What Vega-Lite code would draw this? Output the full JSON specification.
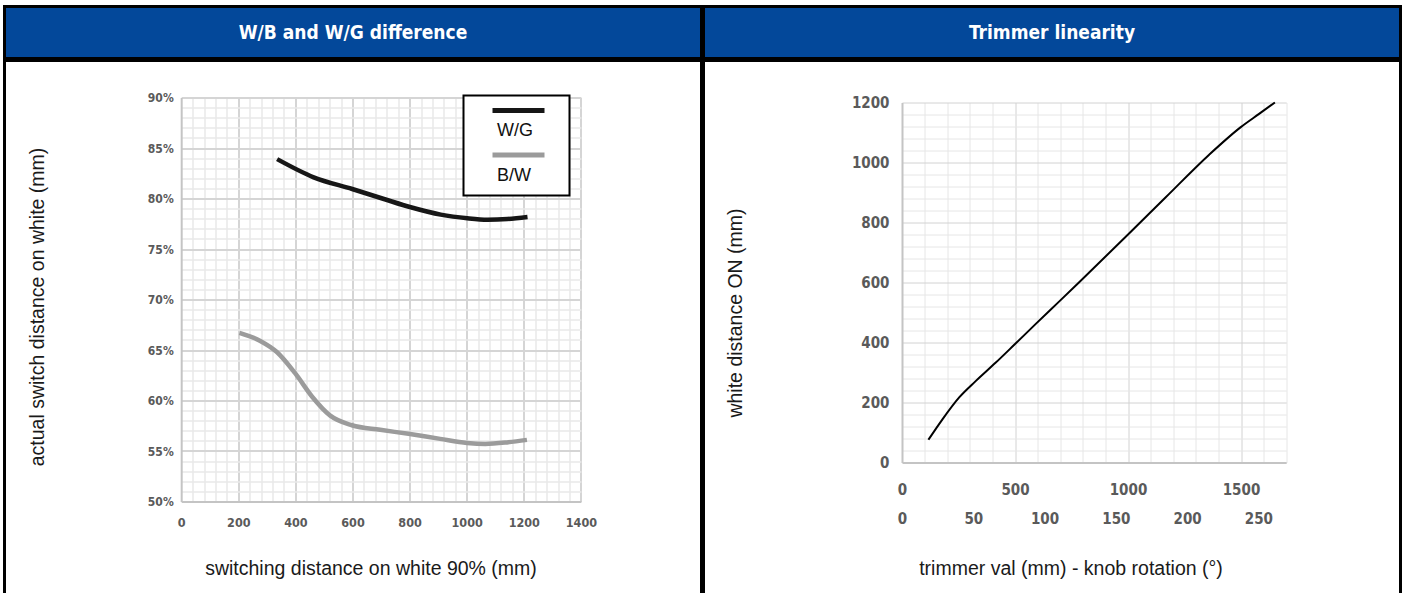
{
  "$schema": "https://vega.github.io/schema/vega-lite/v6.json",
  "padding": {"left": 2.5, "top": 4.5, "right": 0, "bottom": -5},
  "background": "white",
  "spacing": -3,
  "config": {
    "axis": {
      "labelOverlap": false, "labelFlush": false, "ticks": false, "tickSize": 0,
      "labelFont": "DejaVu Sans Condensed",
      "labelFontWeight": "bold", "labelColor": "#5a5a5a",
      "titleFont": "Liberation Sans", "titleFontWeight": "normal", "titleFontSize": 19.5, "titleColor": "#1a1a1a"
    },
    "legend": {"strokeWidth": 2}
  },
  "datasets": {
    "ratio": [
      {"series": "W/G", "dist": 336, "actual": 0.839},
      {"series": "W/G", "dist": 464, "actual": 0.821},
      {"series": "W/G", "dist": 599, "actual": 0.8094},
      {"series": "W/G", "dist": 710, "actual": 0.7995},
      {"series": "W/G", "dist": 804, "actual": 0.7913},
      {"series": "W/G", "dist": 909, "actual": 0.784},
      {"series": "W/G", "dist": 1002, "actual": 0.7804},
      {"series": "W/G", "dist": 1073, "actual": 0.779},
      {"series": "W/G", "dist": 1143, "actual": 0.7797},
      {"series": "W/G", "dist": 1213, "actual": 0.7817},
      {"series": "B/W", "dist": 204, "actual": 0.667},
      {"series": "B/W", "dist": 277, "actual": 0.659},
      {"series": "B/W", "dist": 335, "actual": 0.648},
      {"series": "B/W", "dist": 399, "actual": 0.627},
      {"series": "B/W", "dist": 458, "actual": 0.604},
      {"series": "B/W", "dist": 522, "actual": 0.585},
      {"series": "B/W", "dist": 598, "actual": 0.5755},
      {"series": "B/W", "dist": 697, "actual": 0.571},
      {"series": "B/W", "dist": 796, "actual": 0.567},
      {"series": "B/W", "dist": 907, "actual": 0.562},
      {"series": "B/W", "dist": 1001, "actual": 0.558},
      {"series": "B/W", "dist": 1065, "actual": 0.557},
      {"series": "B/W", "dist": 1141, "actual": 0.5585},
      {"series": "B/W", "dist": 1211, "actual": 0.561}
    ],
    "trimmer": [
      {"trimmer_mm": 117, "white_on": 76},
      {"trimmer_mm": 179, "white_on": 144},
      {"trimmer_mm": 253, "white_on": 217},
      {"trimmer_mm": 327, "white_on": 272},
      {"trimmer_mm": 415, "white_on": 333},
      {"trimmer_mm": 499, "white_on": 394},
      {"trimmer_mm": 592, "white_on": 462},
      {"trimmer_mm": 696, "white_on": 537},
      {"trimmer_mm": 784, "white_on": 601},
      {"trimmer_mm": 999, "white_on": 759},
      {"trimmer_mm": 1167, "white_on": 884},
      {"trimmer_mm": 1359, "white_on": 1026},
      {"trimmer_mm": 1499, "white_on": 1118},
      {"trimmer_mm": 1580, "white_on": 1162},
      {"trimmer_mm": 1650, "white_on": 1200}
    ]
  },
  "hconcat": [
    {
      "spacing": -3,
      "vconcat": [
        {
          "width": 697, "height": 52,
          "view": {"fill": "#03489a", "stroke": "#000000", "strokeWidth": 3},
          "data": {"values": [{"title": "W/B and W/G difference"}]},
          "mark": {"type": "text", "color": "white", "font": "DejaVu Sans Condensed", "fontWeight": "bold", "fontSize": 19},
          "encoding": {"text": {"field": "title"}}
        },
        {
          "width": 697, "height": 537,
          "view": {"fill": "white", "stroke": "#000000", "strokeWidth": 3},
          "data": {"name": "ratio"},
          "resolve": {"axis": {"x": "independent", "y": "independent"}},
          "layer": [
            {
              "mark": {"type": "point", "opacity": 0},
              "encoding": {
                "x": {"field": "dist", "type": "quantitative",
                  "scale": {"domain": [0, 1400], "range": [176.7, 576.4], "nice": false, "zero": false},
                  "axis": {"orient": "top", "grid": true, "labels": false, "domain": false, "title": null, "gridColor": "#e9e9e9", "gridWidth": 1.5,
                    "values": [40,80,120,160,240,280,320,360,440,480,520,560,640,680,720,760,840,880,920,960,1040,1080,1120,1160,1240,1280,1320,1360]}},
                "y": {"field": "actual", "type": "quantitative",
                  "scale": {"domain": [0.5, 0.9], "range": [441, 37], "nice": false, "zero": false},
                  "axis": {"orient": "left", "grid": true, "labels": false, "domain": false, "title": null, "gridColor": "#e9e9e9", "gridWidth": 1.5,
                    "values": [0.51,0.52,0.53,0.54,0.56,0.57,0.58,0.59,0.61,0.62,0.63,0.64,0.66,0.67,0.68,0.69,0.71,0.72,0.73,0.74,0.76,0.77,0.78,0.79,0.81,0.82,0.83,0.84,0.86,0.87,0.88,0.89]}}
              }
            },
            {
              "mark": {"type": "point", "opacity": 0},
              "encoding": {
                "x": {"field": "dist", "type": "quantitative",
                  "axis": {"orient": "top", "grid": true, "labels": false, "domain": false, "title": null, "gridColor": "#d5d5d5", "gridWidth": 2,
                    "values": [200,400,600,800,1000,1200,1400]}},
                "y": {"field": "actual", "type": "quantitative",
                  "axis": {"orient": "left", "grid": true, "labels": false, "domain": false, "title": null, "gridColor": "#d5d5d5", "gridWidth": 2,
                    "values": [0.55,0.6,0.65,0.7,0.75,0.8,0.85,0.9]}}
              }
            },
            {
              "mark": {"type": "line", "strokeWidth": 4.5, "interpolate": "monotone"},
              "encoding": {
                "x": {"field": "dist", "type": "quantitative",
                  "axis": {"orient": "bottom", "offset": -96, "grid": false, "domainColor": "#c4c4c4", "domainWidth": 2,
                    "values": [0,200,400,600,800,1000,1200,1400], "format": "d", "labelFontSize": 12.5, "labelPadding": 21, "labelBaseline": "middle", "labelAngle": 0,
                    "title": "switching distance on white 90% (mm)", "titleX": 366, "titleY": 67, "titleBaseline": "middle"}},
                "y": {"field": "actual", "type": "quantitative",
                  "axis": {"orient": "left", "offset": -176.7, "grid": false, "domainColor": "#c4c4c4", "domainWidth": 2,
                    "values": [0.5,0.55,0.6,0.65,0.7,0.75,0.8,0.85,0.9], "format": ".0%", "labelFontSize": 12, "labelPadding": 8,
                    "title": "actual switch distance on white (mm)", "titleX": -143.7, "titleY": 246, "titleBaseline": "middle"}},
                "color": {"field": "series", "type": "nominal",
                  "scale": {"domain": ["W/G", "B/W"], "range": ["#161616", "#9b9b9b"]},
                  "legend": {
                    "orient": "none", "legendX": 459, "legendY": 89, "title": null,
                    "symbolType": "M-3.11,-0.877M-2,-0.877L2,-0.877M2.3,-0.877",
                    "symbolSize": 676, "symbolStrokeWidth": 5, "symbolOffset": 28.5,
                    "labelAlign": "left", "labelBaseline": "top", "labelOffset": -37,
                    "labelFont": "Liberation Sans", "labelFontSize": 18, "labelColor": "#111111",
                    "rowPadding": 4.5, "padding": 11,
                    "strokeColor": "#000000", "fillColor": "white"
                  }}
              }
            }
          ]
        }
      ]
    },
    {
      "spacing": -3,
      "vconcat": [
        {
          "width": 697, "height": 52,
          "view": {"fill": "#03489a", "stroke": "#000000", "strokeWidth": 3},
          "data": {"values": [{"title": "Trimmer linearity"}]},
          "mark": {"type": "text", "color": "white", "font": "DejaVu Sans Condensed", "fontWeight": "bold", "fontSize": 19},
          "encoding": {"text": {"field": "title"}}
        },
        {
          "width": 697, "height": 537,
          "view": {"fill": "white", "stroke": "#000000", "strokeWidth": 3},
          "data": {"name": "trimmer"},
          "resolve": {"scale": {"x": "independent"}, "axis": {"x": "independent", "y": "independent"}},
          "layer": [
            {
              "mark": {"type": "point", "opacity": 0},
              "encoding": {
                "x": {"field": "trimmer_mm", "type": "quantitative",
                  "scale": {"domain": [0, 1700], "range": [198.5, 582.7], "nice": false, "zero": false},
                  "axis": {"orient": "top", "grid": true, "labels": false, "domain": false, "title": null, "gridColor": "#e6e6e6", "gridWidth": 1,
                    "values": [100,200,300,400,600,700,800,900,1100,1200,1300,1400,1600,1700]}},
                "y": {"field": "white_on", "type": "quantitative",
                  "scale": {"domain": [0, 1200], "range": [402, 42], "nice": false, "zero": false},
                  "axis": {"orient": "left", "grid": true, "labels": false, "domain": false, "title": null, "gridColor": "#e6e6e6", "gridWidth": 1,
                    "values": [40,80,120,160,240,280,320,360,440,480,520,560,640,680,720,760,840,880,920,960,1040,1080,1120,1160]}}
              }
            },
            {
              "mark": {"type": "point", "opacity": 0},
              "encoding": {
                "x": {"field": "trimmer_mm", "type": "quantitative",
                  "scale": {"domain": [0, 1700], "range": [198.5, 582.7], "nice": false, "zero": false},
                  "axis": {"orient": "top", "grid": true, "labels": false, "domain": false, "title": null, "gridColor": "#d2d2d2", "gridWidth": 1,
                    "values": [500,1000,1500]}},
                "y": {"field": "white_on", "type": "quantitative",
                  "axis": {"orient": "left", "grid": true, "labels": false, "domain": false, "title": null, "gridColor": "#d2d2d2", "gridWidth": 1,
                    "values": [200,400,600,800,1000,1200]}}
              }
            },
            {
              "mark": {"type": "line", "strokeWidth": 2, "color": "#000000", "interpolate": "monotone"},
              "encoding": {
                "x": {"field": "trimmer_mm", "type": "quantitative",
                  "scale": {"domain": [0, 1700], "range": [198.5, 582.7], "nice": false, "zero": false},
                  "axis": {"orient": "bottom", "offset": -135, "grid": false, "domainColor": "#c4c4c4", "domainWidth": 2,
                    "values": [0,500,1000,1500], "format": "d", "labelFontSize": 15, "labelPadding": 27, "labelBaseline": "middle", "labelAngle": 0,
                    "title": "trimmer val (mm) - knob rotation (°)", "titleX": 367, "titleY": 106, "titleBaseline": "middle"}},
                "y": {"field": "white_on", "type": "quantitative",
                  "axis": {"orient": "left", "offset": -198.5, "grid": false, "domainColor": "#c4c4c4", "domainWidth": 2,
                    "values": [0,200,400,600,800,1000,1200], "format": "d", "labelFontSize": 15, "labelPadding": 13,
                    "title": "white distance ON (mm)", "titleX": -166.5, "titleY": 252, "titleBaseline": "middle"}}
              }
            },
            {
              "mark": {"type": "point", "opacity": 0},
              "encoding": {
                "x": {"datum": 0, "type": "quantitative",
                  "scale": {"domain": [0, 269.5], "range": [198.5, 582.7], "nice": false, "zero": false},
                  "axis": {"orient": "bottom", "offset": -135, "grid": false, "domain": false,
                    "values": [0,50,100,150,200,250], "format": "d", "labelFontSize": 15, "labelPadding": 55.5, "labelBaseline": "middle", "labelAngle": 0,
                    "title": null}}
              }
            }
          ]
        }
      ]
    }
  ]
}
